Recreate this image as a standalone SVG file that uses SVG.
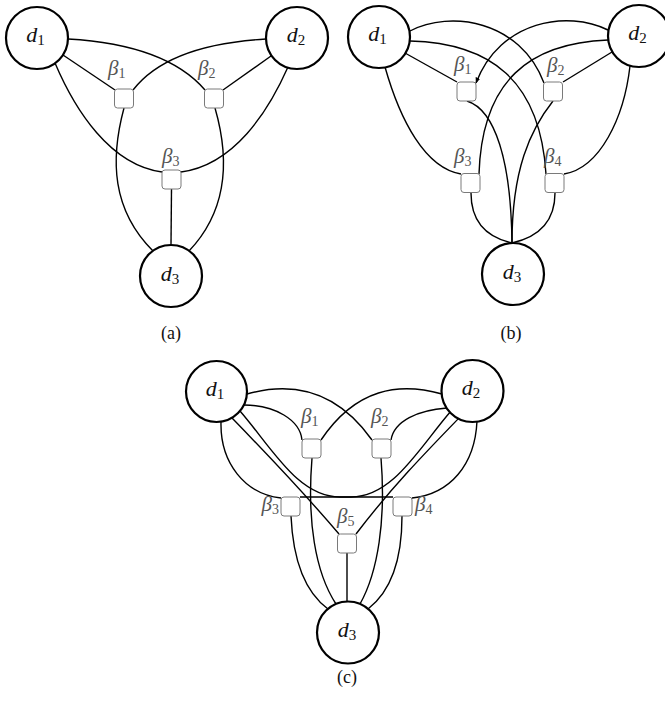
<svg xmlns="http://www.w3.org/2000/svg" width="665" height="704" viewBox="0 0 665 704">
<style>
.ln{fill:none;stroke:#000;stroke-width:1.4}
.nd{fill:#fff;stroke:#000;stroke-width:2.2}
.bx{fill:#fff;stroke:#7a7a7a;stroke-width:1}
.dl{font-family:"Liberation Serif","Times New Roman",serif;font-style:italic;font-size:22px;fill:#111}
.bl{font-family:"Liberation Serif","Times New Roman",serif;font-style:italic;font-size:21px;fill:#555}
.s1{font-style:normal;font-size:15px}
.s2{font-style:normal;font-size:14px}
.cap{font-family:"Liberation Serif","Times New Roman",serif;font-size:18px;fill:#111}
</style>
<defs>
<marker id="arr" viewBox="0 0 10 10" refX="9" refY="5" markerWidth="6" markerHeight="6" orient="auto" markerUnits="userSpaceOnUse">
<path d="M0,1 L10,5 L0,9 z" fill="#000"/>
</marker>
</defs>
<rect width="665" height="704" fill="#fff"/>

<g id="connectors">
<!-- (a) -->
<path class="ln" d="M68,39 C120,42 175,55 205,90"/>
<path class="ln" d="M266,39 C214,42 160,55 133,90"/>
<path class="ln" d="M63,55 L115,90"/>
<path class="ln" d="M271,56 L223,90"/>
<path class="ln" d="M55,63 C75,110 110,165 162,172"/>
<path class="ln" d="M288,67 C268,112 234,165 181,172"/>
<path class="ln" d="M124,108 C110,160 112,210 153,251"/>
<path class="ln" d="M215,108 C230,160 228,210 189,251"/>
<path class="ln" d="M171.5,189 L171,245"/>
<!-- (b) -->
<path class="ln" d="M410,31 C450,10 520,20 544,83"/>
<path class="ln" d="M608,30 C568,10 500,20 476,83" marker-end="url(#arr)"/>
<path class="ln" d="M410,41 C490,43 540,80 546,174"/>
<path class="ln" d="M608,40 C530,43 482,80 479,174"/>
<path class="ln" d="M405,53 L457,82"/>
<path class="ln" d="M612,52 L563,82"/>
<path class="ln" d="M385,67 C400,120 425,168 461,174"/>
<path class="ln" d="M630,66 C624,118 600,168 564,174"/>
<path class="ln" d="M467,101 C495,110 511,160 512,243"/>
<path class="ln" d="M553,101 C530,130 512,170 512,243"/>
<path class="ln" d="M471,193 C471,225 490,238 512,243"/>
<path class="ln" d="M555,193 C555,225 534,238 512,243"/>
<!-- (c) -->
<path class="ln" d="M247,394 C290,382 335,388 372,440"/>
<path class="ln" d="M442,394 C399,382 356,388 321,440"/>
<path class="ln" d="M244,405 C275,405 300,420 302,440"/>
<path class="ln" d="M447,408 C418,410 394,421 391,440"/>
<path class="ln" d="M221,422 C220,463 245,494 281,498"/>
<path class="ln" d="M477,421 C475,465 450,494 412,498"/>
<path class="ln" d="M240,411 C272,448 298,497 340,497 L393,497"/>
<path class="ln" d="M451,411 C419,448 393,497 351,497 L300,497"/>
<path class="ln" d="M232,418 C265,452 300,488 339,534"/>
<path class="ln" d="M459,418 C426,452 391,488 356,534"/>
<path class="ln" d="M312,458 C307,520 315,572 336,604"/>
<path class="ln" d="M381,458 C386,520 378,572 360,604"/>
<path class="ln" d="M291,516 C293,560 305,592 328,609"/>
<path class="ln" d="M402,516 C402,560 390,592 368,609"/>
<path class="ln" d="M347,553 L347,601.5"/>
</g>

<!-- (a) nodes -->
<g id="a-d1"><circle class="nd" cx="37" cy="38" r="31"/><text class="dl" x="35.5" y="42" text-anchor="middle">d<tspan class="s1" dy="3">1</tspan></text></g>
<g id="a-d2"><circle class="nd" cx="297" cy="38" r="31"/><text class="dl" x="296" y="42" text-anchor="middle">d<tspan class="s1" dy="3">2</tspan></text></g>
<g id="a-d3"><circle class="nd" cx="171" cy="276" r="31"/><text class="dl" x="170" y="280.5" text-anchor="middle">d<tspan class="s1" dy="3">3</tspan></text></g>
<g id="a-b1"><rect class="bx" x="114.5" y="89" width="19" height="19" rx="3"/><text class="bl" x="108" y="75">β<tspan class="s2" dy="3">1</tspan></text></g>
<g id="a-b2"><rect class="bx" x="204.5" y="89" width="19" height="19" rx="3"/><text class="bl" x="198" y="75">β<tspan class="s2" dy="3">2</tspan></text></g>
<g id="a-b3"><rect class="bx" x="162" y="170" width="19" height="19" rx="3"/><text class="bl" x="162" y="163">β<tspan class="s2" dy="3">3</tspan></text></g>
<text class="cap" x="171" y="339" text-anchor="middle">(a)</text>

<!-- (b) nodes -->
<g id="b-d1"><circle class="nd" cx="379" cy="37" r="31"/><text class="dl" x="377.5" y="41" text-anchor="middle">d<tspan class="s1" dy="3">1</tspan></text></g>
<g id="b-d2"><circle class="nd" cx="639" cy="36" r="31"/><text class="dl" x="637.5" y="40" text-anchor="middle">d<tspan class="s1" dy="3">2</tspan></text></g>
<g id="b-d3"><circle class="nd" cx="513" cy="274" r="31"/><text class="dl" x="512" y="278.5" text-anchor="middle">d<tspan class="s1" dy="3">3</tspan></text></g>
<g id="b-b1"><rect class="bx" x="457" y="82" width="19" height="19" rx="3"/><text class="bl" x="454" y="71">β<tspan class="s2" dy="3">1</tspan></text></g>
<g id="b-b2"><rect class="bx" x="543.5" y="82" width="19" height="19" rx="3"/><text class="bl" x="547" y="72">β<tspan class="s2" dy="3">2</tspan></text></g>
<g id="b-b3"><rect class="bx" x="461" y="173.5" width="19" height="19" rx="3"/><text class="bl" x="454" y="163">β<tspan class="s2" dy="3">3</tspan></text></g>
<g id="b-b4"><rect class="bx" x="545" y="173.5" width="19" height="19" rx="3"/><text class="bl" x="544" y="163">β<tspan class="s2" dy="3">4</tspan></text></g>
<text class="cap" x="511" y="339" text-anchor="middle">(b)</text>

<!-- (c) nodes -->
<g id="c-d1"><circle class="nd" cx="216.5" cy="391.5" r="30.5"/><text class="dl" x="215" y="395.5" text-anchor="middle">d<tspan class="s1" dy="3">1</tspan></text></g>
<g id="c-d2"><circle class="nd" cx="472.5" cy="391" r="31"/><text class="dl" x="471" y="395" text-anchor="middle">d<tspan class="s1" dy="3">2</tspan></text></g>
<g id="c-d3"><circle class="nd" cx="348" cy="632.5" r="31"/><text class="dl" x="347" y="637" text-anchor="middle">d<tspan class="s1" dy="3">3</tspan></text></g>
<g id="c-b1"><rect class="bx" x="302" y="439" width="19" height="19" rx="3"/><text class="bl" x="301" y="423">β<tspan class="s2" dy="3">1</tspan></text></g>
<g id="c-b2"><rect class="bx" x="372" y="439" width="19" height="19" rx="3"/><text class="bl" x="371" y="423">β<tspan class="s2" dy="3">2</tspan></text></g>
<g id="c-b3"><rect class="bx" x="281" y="497" width="19" height="19" rx="3"/><text class="bl" x="279" y="511" text-anchor="end">β<tspan class="s2" dy="3">3</tspan></text></g>
<g id="c-b4"><rect class="bx" x="393" y="497" width="19" height="19" rx="3"/><text class="bl" x="415" y="511">β<tspan class="s2" dy="3">4</tspan></text></g>
<g id="c-b5"><rect class="bx" x="337.5" y="534" width="19" height="19" rx="3"/><text class="bl" x="337" y="523">β<tspan class="s2" dy="3">5</tspan></text></g>
<text class="cap" x="347" y="683" text-anchor="middle">(c)</text>
</svg>
